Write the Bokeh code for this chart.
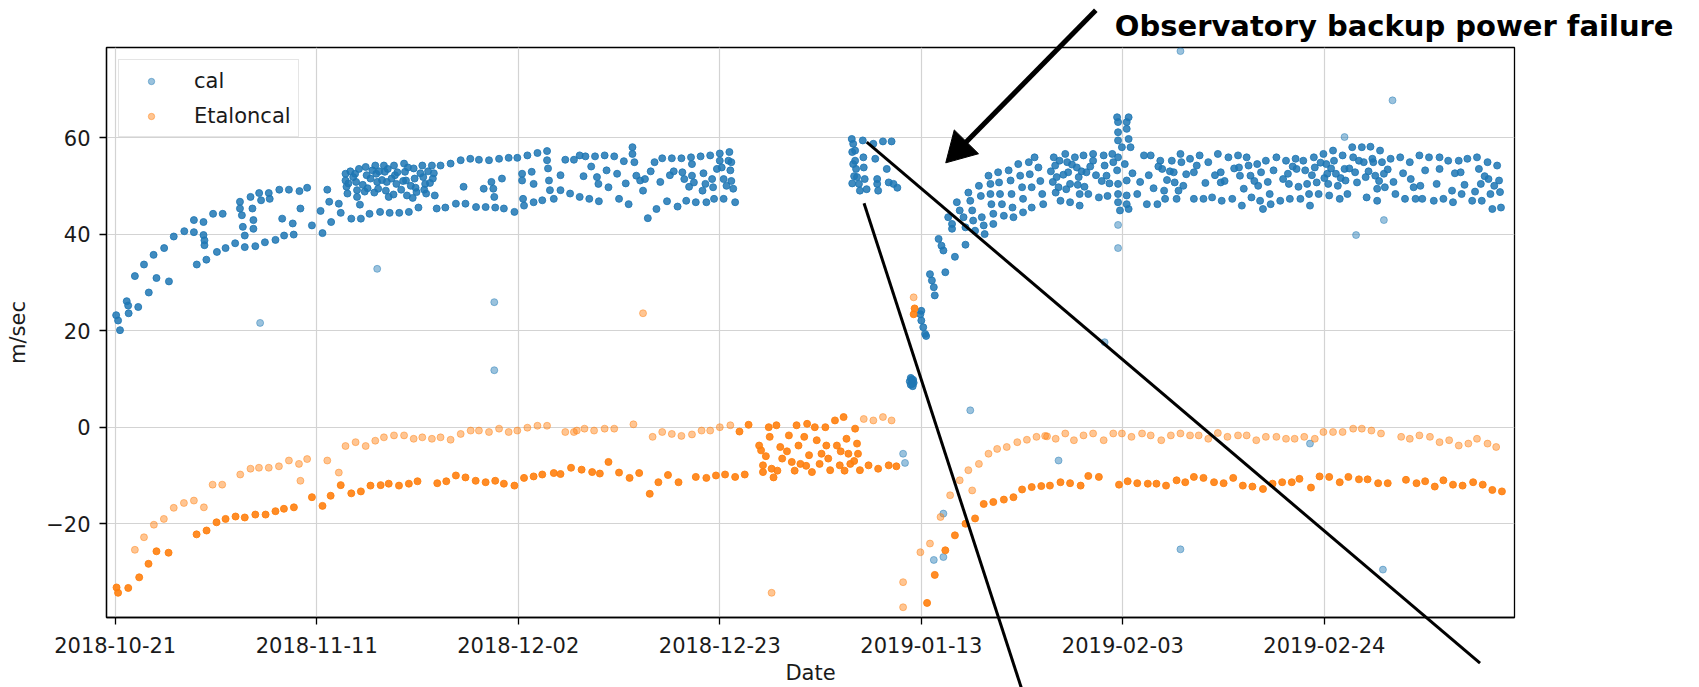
import numpy as np
import pandas as pd
from bokeh.plotting import figure
from bokeh.models import (Range1d, FixedTicker, DatetimeTickFormatter, Legend, LegendItem,
                          ColumnDataSource)
from bokeh.core.properties import value
from bokeh.embed import file_html
from bokeh.resources import INLINE

# ---------------------------------------------------------------------------
# Data: RV offsets (m/sec) against days elapsed since START
# ---------------------------------------------------------------------------
START = "2018-10-21"
TICK_DATES = ["2018-10-21", "2018-11-11", "2018-12-02", "2018-12-23",
              "2019-01-13", "2019-02-03", "2019-02-24"]
Y_TICKS = [-20, 0, 20, 40, 60]

# cal: October / November warm-up
cal_oct_day = [0.1, 0.3, 0.5, 1.2, 1.35, 1.4, 2.05, 2.4, 3.0, 3.5,
               4.0, 4.3, 5.1, 5.6, 6.1, 7.2, 8.2, 8.2, 8.5, 9.2,
               9.2, 9.3, 9.3, 9.5, 10.2, 10.6, 11.2, 11.5, 12.5, 13.0,
               13.0, 13.2, 13.3, 13.5, 13.5, 14.1, 14.3, 14.4, 14.4, 14.6,
               15.0, 15.2, 15.6, 16.0, 16.1, 16.7, 17.1, 17.4, 17.6, 18.1,
               18.5, 18.6, 19.2, 19.3, 20.0, 20.5, 21.4, 21.6, 22.1, 22.3,
               22.5, 23.3, 23.5]
cal_oct_val = [23.2, 22.1, 20.1, 26.1, 25.2, 23.6, 31.3, 24.9, 33.7, 27.9,
               35.7, 30.9, 37.1, 30.2, 39.5, 40.6, 42.9, 40.4, 33.7, 42.5,
               39.8, 38.7, 37.7, 34.7, 44.2, 36.3, 44.2, 37.1, 38.1, 46.7,
               45.3, 43.9, 41.5, 37.3, 39.7, 47.7, 45.3, 42.9, 41.1, 37.5,
               48.5, 47.0, 38.3, 48.5, 47.3, 38.8, 49.2, 43.2, 39.7, 49.2,
               42.2, 39.9, 48.9, 45.3, 49.6, 41.8, 44.8, 40.2, 49.2, 46.7,
               42.5, 46.3, 44.4]

# cal: November plateau
cal_nov_day = [24.0, 24.0, 24.1, 24.2, 24.6, 25.0, 25.1, 25.2, 25.2, 25.5,
               25.6, 26.1, 26.2, 26.5, 27.1, 27.2, 27.3, 27.4, 27.6, 28.0,
               28.1, 28.3, 28.5, 28.6, 29.05, 29.15, 29.3, 29.6, 30.1, 30.2,
               30.3, 30.4, 30.6, 31.1, 31.2, 31.4, 31.6, 32.0, 32.1, 32.3,
               32.4, 33.0, 33.1, 33.3, 33.5, 33.9, 34.4, 34.95, 35.5, 36.0,
               36.3, 36.5, 37.0, 37.6, 37.9, 38.4, 38.6, 38.95, 39.2, 39.4,
               39.5, 39.6, 40.0, 40.3, 40.5, 41.0, 41.6, 41.9, 42.4, 42.4,
               42.5, 42.6, 42.95, 43.4, 43.6, 43.6, 44.0, 44.5, 45.0, 45.0,
               45.1, 45.2, 45.3, 45.7, 46.4, 46.4, 46.9, 47.4, 47.8,
               24.3, 24.5, 24.8, 25.4, 25.8, 26.0, 26.3, 26.6, 26.8, 27.0,
               27.5, 27.8, 28.2, 28.4, 28.8, 29.0, 29.4, 29.8, 30.0, 30.5,
               30.8, 31.0, 31.3, 31.8, 32.2, 32.6, 32.8, 33.2]
cal_nov_val = [52.5, 51.1, 49.8, 48.4, 43.2, 52.5, 50.8, 49.1, 47.7, 46.1,
               43.2, 53.9, 52.2, 44.2, 54.2, 52.5, 50.8, 49.4, 44.6, 54.2,
               52.9, 50.8, 47.7, 44.4, 54.2, 52.2, 50.4, 44.4, 54.6, 52.9,
               51.1, 48.0, 44.6, 53.6, 51.5, 48.7, 45.5, 54.2, 51.8, 50.4,
               48.4, 54.2, 51.5, 48.0, 45.3, 54.2, 45.5, 54.6, 46.3, 55.3,
               49.8, 46.3, 55.6, 45.6, 55.4, 49.4, 45.6, 55.3, 50.8, 49.4,
               47.7, 45.5, 55.6, 51.5, 45.3, 55.8, 44.6, 55.8, 52.5, 51.1,
               47.3, 45.9, 56.3, 52.9, 50.4, 46.6, 56.8, 47.0, 57.2, 55.3,
               53.6, 51.1, 49.1, 47.3, 52.2, 49.1, 55.4, 48.4, 55.4,
               50.5, 53.0, 51.8, 53.5, 50.2, 48.8, 49.5, 51.5, 53.2, 48.6,
               53.0, 51.2, 49.0, 53.5, 51.5, 48.2, 52.8, 49.2, 51.0, 53.8,
               50.0, 47.5, 49.6, 52.6, 49.2, 53.0, 50.6, 52.6]

# cal: December
cal_dec_day = [48.4, 49.0, 50.0, 51.0, 52.0, 53.0, 53.9, 53.9, 54.1, 56.2,
               57.0, 58.0, 59.0, 60.0, 61.0, 62.0, 63.0, 64.0,
               50.2, 50.35, 51.2, 51.4, 54.3, 54.7, 55.2, 55.0, 58.2, 59.1,
               59.3, 60.1, 60.1, 60.3, 61.3, 61.5, 61.2, 62.2, 62.3, 63.0,
               63.2, 63.4, 63.9, 64.1, 64.2, 64.4, 64.2,
               48.4, 49.4, 50.4, 52.5, 53.5, 55.5, 56.4, 57.5, 58.6, 59.5,
               60.5, 61.6, 62.4, 63.4, 64.6,
               48.8, 49.6, 52.3, 53.2, 55.8, 56.8, 57.8, 59.8, 62.7, 63.7]
cal_dec_val = [56.3, 56.1, 56.1, 56.3, 56.1, 55.1, 58.0, 56.6, 54.9, 54.9,
               55.7, 55.7, 55.7, 55.9, 56.1, 56.3, 56.7, 57.0,
               51.8, 50.4, 53.2, 49.7, 52.1, 51.1, 51.4, 49.0, 53.0, 52.8,
               51.4, 54.5, 52.1, 50.7, 52.6, 50.4, 49.0, 51.4, 49.7, 55.2,
               53.8, 51.4, 55.2, 53.2, 51.0, 49.4, 54.9,
               47.7, 47.3, 46.8, 47.3, 46.2, 43.3, 45.2, 46.8, 45.7, 46.9,
               46.6, 46.6, 47.3, 47.3, 46.6,
               52.0, 54.0, 52.5, 50.5, 53.0, 50.8, 52.2, 49.8, 53.5, 50.0]

# cal: January (before and after the outage)
cal_jan_day = [76.75, 76.8, 76.8, 76.9, 76.9, 77.0, 77.1, 77.1, 77.2, 77.3,
               77.5, 77.6, 77.9, 77.96, 78.0, 78.1, 78.3, 79.0, 79.2, 79.4,
               79.5, 79.4, 80.0, 80.4, 80.6, 80.9, 81.1, 81.5,
               82.8, 82.9, 83.0, 83.1, 83.2, 82.9, 83.05, 83.15,
               83.9, 84.0, 84.2, 84.4, 84.0, 84.5,
               84.9, 85.1, 85.3, 85.4, 85.8, 86.1, 86.3, 86.5, 87.5, 88.6,
               86.8, 87.2, 87.2, 87.7, 88.0, 88.4, 88.6, 88.9, 89.1, 89.3,
               89.4, 89.6, 90.3, 90.5, 90.6, 90.0, 90.2, 91.0, 91.2, 91.2,
               91.3, 91.5, 91.5, 92.0, 92.1, 92.2, 92.4, 92.6, 93.1, 93.3,
               93.4, 93.5, 93.6, 94.1, 94.3, 94.5, 94.6, 94.6, 95.2, 95.3,
               95.5, 95.5, 95.8, 96.2, 96.4, 96.6, 96.7]
cal_jan_val = [59.7, 57.0, 50.5, 58.7, 54.5, 52.0, 57.3, 55.2, 53.5, 51.8,
               50.4, 49.0, 59.4, 55.9, 53.8, 51.4, 49.3, 58.7, 55.6, 51.4,
               49.0, 50.4, 59.2, 53.5, 50.7, 59.2, 50.4, 49.6,
               9.5, 8.8, 9.9, 8.5, 9.2, 10.2, 9.0, 9.8,
               23.4, 22.1, 20.7, 19.3, 24.1, 18.9,
               31.7, 30.4, 29.0, 27.3, 39.0, 37.6, 36.6, 32.1, 35.3, 37.8,
               43.5, 42.1, 41.1, 46.6, 44.9, 43.5, 41.4, 48.6, 46.9, 44.9,
               42.8, 40.7, 43.5, 41.8, 40.0, 50.0, 47.9, 52.1, 50.4, 48.3,
               46.2, 44.2, 42.1, 52.8, 50.7, 48.3, 46.2, 43.8, 53.2, 51.1,
               48.3, 45.5, 43.5, 54.5, 52.1, 49.7, 47.3, 44.5, 54.9, 52.4,
               49.7, 45.5, 55.9, 53.8, 51.0, 48.3, 46.2]

# cal: February / March
cal_feb_day = [97.8, 97.95, 98.1, 98.3, 98.5, 99.0, 99.2, 99.3, 99.5, 99.5,
               100.0, 100.2, 100.4, 100.5, 100.5, 100.9, 101.2, 101.4, 101.9, 101.9,
               102.5, 103.0, 103.1, 103.3, 103.4, 103.9, 104.0,
               104.4, 105.6, 104.5, 105.4, 104.5, 105.4, 104.5, 105.6, 104.9, 105.8,
               104.5, 105.2, 104.4, 104.5, 105.4, 104.5, 105.4, 104.5, 104.7, 105.6,
               105.4,
               106.5, 107.2, 107.5, 107.9, 108.9, 109.1, 109.3, 109.4, 108.6, 110.1,
               110.3, 110.4, 110.6, 111.0, 111.1, 111.3, 112.0, 112.4, 112.4, 113.0,
               113.4, 113.9, 114.3, 114.9, 115.2, 115.2, 115.3, 116.0, 116.4, 117.0,
               117.1, 117.2, 117.4, 117.9, 118.1, 118.3, 118.4, 119.0, 119.1, 119.3,
               119.6, 119.9, 120.3, 120.4, 121.0, 121.4, 122.0, 122.2, 122.3, 122.4,
               123.0, 123.1, 123.5, 123.8, 124.0, 124.2, 124.4, 124.5, 124.9, 125.0,
               125.2, 125.4, 125.9, 126.2, 126.3, 126.4, 126.5, 126.9, 127.0, 127.2,
               127.4, 127.6, 127.9, 128.1, 128.2, 128.4, 128.9, 129.0, 129.2, 129.4,
               129.9, 130.1, 130.3, 130.4, 130.8, 131.1, 131.3, 131.5, 131.5, 131.8,
               132.0, 132.2, 132.3, 132.9, 133.4, 133.9, 134.4, 134.9, 135.3, 135.5,
               135.9, 136.0, 136.2, 136.9, 137.4, 138.0, 138.0, 138.4, 138.9, 139.3,
               139.4, 140.0, 140.2, 140.3, 140.9, 141.4, 141.9, 142.1, 142.3, 142.4,
               143.0, 143.1, 143.3, 143.5, 144.0, 144.2, 144.3, 144.4,
               97.5, 97.7, 98.0, 98.4, 98.8, 99.1, 99.7, 100.3, 100.7, 101.0,
               101.6, 102.2, 102.8, 103.6, 106.0, 106.8, 107.7, 108.2, 108.7, 109.6,
               109.9, 110.8, 111.6, 112.7, 113.6, 114.6, 115.6, 116.6, 117.6, 118.7,
               119.4, 120.1, 120.7, 121.7, 122.7, 123.3, 124.7, 125.6, 126.0, 126.7,
               127.7, 128.6, 129.6, 130.6, 131.0, 131.7, 132.6, 133.2, 134.2, 135.0,
               136.5, 137.7, 139.6, 140.6, 141.7, 142.7, 143.7]
cal_feb_val = [55.9, 54.2, 51.8, 49.7, 46.9, 56.6, 54.9, 52.8, 50.4, 46.6,
               55.9, 53.8, 51.8, 48.3, 45.9, 56.3, 52.8, 48.3, 56.6, 55.2,
               47.6, 56.3, 54.2, 52.1, 47.9, 56.6, 54.9,
               64.2, 64.2, 63.2, 63.2, 61.1, 61.8, 59.4, 59.7, 58.0, 58.0,
               55.9, 54.5, 53.2, 50.4, 51.1, 48.3, 48.0, 46.6, 44.9, 45.2,
               46.2,
               48.3, 56.3, 46.2, 56.3, 55.2, 53.5, 49.0, 47.3, 46.2, 55.2,
               52.8, 50.7, 47.3, 56.6, 54.9, 50.0, 55.6, 52.8, 47.3, 56.3,
               47.3, 54.9, 47.6, 56.6, 52.8, 50.7, 46.9, 55.9, 47.3, 56.3,
               53.8, 52.1, 45.9, 55.9, 54.2, 52.1, 47.6, 54.5, 50.0, 46.9,
               45.2, 55.2, 48.3, 46.2, 55.9, 46.9, 55.2, 52.5, 50.4, 47.3,
               55.6, 53.5, 47.3, 55.2, 53.2, 50.4, 48.3, 45.9, 55.9, 53.8,
               50.7, 48.3, 56.6, 54.5, 52.5, 50.4, 48.0, 57.3, 55.2, 52.5,
               50.0, 47.3, 56.3, 53.5, 51.1, 48.3, 58.0, 55.9, 52.8, 50.7,
               58.0, 54.9, 51.8, 47.6, 58.1, 54.9, 52.1, 49.4, 46.9, 57.3,
               54.9, 52.5, 49.7, 55.6, 48.3, 55.9, 47.3, 54.9, 49.7, 47.3,
               56.3, 50.0, 47.3, 55.9, 46.9, 55.9, 53.5, 47.3, 55.2, 49.0,
               46.6, 55.2, 52.8, 48.3, 55.6, 46.9, 55.9, 53.5, 50.4, 46.9,
               54.9, 51.4, 48.3, 45.2, 54.2, 51.1, 48.7, 45.5,
               53.0, 50.8, 48.6, 55.2, 52.3, 49.3, 54.4, 50.2, 53.0, 49.8,
               54.0, 52.2, 51.0, 50.5, 52.6, 50.8, 52.2, 49.5, 54.0, 51.2,
               53.0, 49.0, 52.4, 54.2, 50.6, 52.2, 51.0, 53.6, 49.4, 51.0,
               52.8, 50.8, 53.2, 51.4, 54.0, 49.8, 52.2, 54.8, 51.6, 53.6,
               51.6, 53.6, 55.2, 53.0, 55.6, 51.0, 53.4, 50.8, 52.6, 51.4,
               53.2, 50.4, 52.6, 50.2, 48.8, 52.0, 50.0]

# cal: isolated outliers
cal_out_day = [15.1, 27.3, 39.5, 39.5, 82.1, 82.3, 85.3, 86.3, 86.3, 89.1,
               98.3, 103.1, 104.5, 104.5, 111.0, 111.0, 124.5, 128.1, 129.3, 132.1,
               132.2, 133.1]
cal_out_val = [21.6, 32.8, 25.9, 11.8, -5.5, -7.4, -27.5, -26.9, -17.9, 3.5,
               -6.9, 17.6, 41.9, 37.1, -25.3, 77.9, -3.4, 60.1, 39.8, -29.5,
               42.9, 67.7]

# Etaloncal: single-exposure nights (upper track and scattered points)
etal_single_day = [2.05, 3.0, 4.03, 5.07, 6.1, 7.16, 8.2, 9.24, 10.15, 11.15,
                   13.03, 14.1, 14.98, 16.0, 17.06, 18.1, 19.15, 19.3, 20.0, 22.1,
                   23.3, 24.0, 25.05, 26.1, 27.1, 28.0, 29.05, 30.1, 31.1, 32.0,
                   33.0, 33.9, 34.95, 36.0, 37.04, 37.9, 38.95, 40.0, 41.0, 41.9,
                   42.95, 44.0, 45.0, 46.9, 47.8,
                   48.1, 48.9, 49.9, 51.0, 52.0, 54.0, 56.0, 57.0, 58.0, 59.0,
                   60.1, 61.1, 62.0, 63.0, 64.1,
                   78.0, 79.0, 80.0, 80.9, 82.1, 82.1, 83.9, 84.9, 86.0, 87.0,
                   88.0, 88.9, 89.3, 90.0, 91.0, 91.9, 92.9, 94.0, 95.0, 96.0,
                   96.9,
                   55.0, 68.4, 83.2,
                   97.1, 98.0, 99.0, 99.9, 100.9, 101.9, 103.0, 104.0, 104.9, 105.9,
                   107.0, 107.9, 109.0, 110.0, 111.0, 112.0, 112.9, 113.9, 114.9, 115.9,
                   117.0, 117.9, 118.9, 119.9, 121.0, 122.0, 122.9, 123.9, 125.0, 125.9,
                   126.9, 127.9, 129.0, 129.9, 130.9, 131.9, 134.0, 134.9, 135.9, 137.0,
                   138.0, 139.0, 140.0, 141.0, 141.9, 143.0, 143.9]
etal_single_val = [-25.4, -22.8, -20.2, -19.0, -16.7, -15.7, -15.2, -16.6, -11.9, -11.9,
                   -9.8, -8.6, -8.4, -8.4, -8.1, -6.9, -7.6, -11.1, -6.6, -6.9,
                   -9.4, -3.9, -3.1, -3.9, -2.8, -2.1, -1.7, -1.7, -2.4, -2.1,
                   -2.4, -2.1, -2.6, -1.4, -0.7, -0.7, -1.0, -0.3, -1.0, -0.7,
                   -0.1, 0.3, 0.3, -1.0, -1.0,
                   -0.7, -0.3, -0.7, -0.3, -0.3, 0.6, -2.0, -1.0, -1.4, -1.8,
                   -1.5, -0.7, -0.7, 0.0, 0.4,
                   1.7, 1.4, 2.1, 1.4, -32.1, -37.3, -25.9, -24.1, -18.6, -14.1,
                   -11.0, -8.9, -13.1, -7.6, -5.5, -4.5, -4.1, -3.1, -2.6, -2.0,
                   -1.8,
                   23.6, -34.3, 26.9,
                   -1.9, -2.4, -1.3, -2.7, -1.7, -1.3, -2.7, -1.3, -1.3, -2.0,
                   -1.3, -1.7, -2.7, -1.7, -1.3, -1.7, -1.7, -2.4, -1.2, -2.0,
                   -1.7, -1.7, -2.7, -2.0, -2.0, -2.4, -2.4, -2.0, -2.4, -1.0,
                   -1.0, -1.0, -0.3, -0.3, -0.7, -1.3, -2.0, -2.4, -1.7, -2.0,
                   -3.1, -2.7, -3.8, -3.4, -2.4, -3.4, -4.1]

# Etaloncal: repeated-exposure nights (lower track and the late-December block)
etal_multi_day = [0.14, 0.3, 1.36, 2.5, 3.47, 4.3, 5.56, 8.48, 9.52, 10.56,
                  11.5, 12.54, 13.5, 14.6, 15.67, 16.7, 17.58, 18.62, 20.5, 21.6,
                  22.45, 23.5, 24.6, 25.6, 26.6, 27.66, 28.5, 29.57, 30.6, 31.5,
                  33.56, 34.5, 35.5, 36.5, 37.56, 38.6, 39.6, 40.5, 41.6, 42.6,
                  43.6, 44.5, 45.7, 46.4, 47.5,
                  48.6, 49.7, 50.5, 51.4, 52.5, 53.6, 54.6, 55.7, 56.6, 57.6,
                  58.7, 60.5, 61.6, 62.6, 63.55, 64.6, 65.05, 65.6, 66.0,
                  67.1, 67.3, 67.5, 67.5, 68.1, 68.2, 68.4, 68.6, 68.9, 69.3,
                  69.5, 70.2, 70.5, 71.0, 71.2, 71.4, 72.1, 72.3, 72.6, 72.9,
                  73.1, 73.4, 74.0, 74.1, 74.5, 75.0, 75.2, 75.5, 75.9, 76.2,
                  76.6, 77.1, 77.3, 77.4, 77.6, 78.5, 79.5, 80.6, 81.4,
                  67.8, 69.0, 70.0, 70.8, 71.8, 72.0, 73.6, 74.3, 75.6, 76.4,
                  77.0, 76.0,
                  83.2, 83.3, 84.6, 85.4, 86.5, 87.5, 88.6, 89.6, 90.5, 91.5,
                  92.6, 93.6, 94.5, 95.5, 96.5,
                  97.4, 98.5, 99.5, 100.6, 101.4, 102.5, 104.6, 105.5, 106.5, 107.6,
                  108.5, 109.5, 110.6, 111.5, 112.4, 113.4, 114.5, 115.5, 116.5, 117.5,
                  118.5, 119.6, 120.6, 121.6, 122.6, 123.4, 124.6, 125.5, 126.5, 127.6,
                  128.5, 129.6, 130.5, 131.6, 132.6, 134.5, 135.6, 136.5, 137.5, 138.4,
                  139.4, 140.4, 141.5, 142.5, 143.5, 144.5]
etal_multi_val = [-33.2, -34.3, -33.3, -31.1, -28.3, -25.7, -26.0, -22.2, -21.4, -19.7,
                  -19.0, -18.5, -18.7, -18.1, -18.1, -17.4, -16.9, -16.6, -14.5, -16.3,
                  -14.2, -12.0, -13.7, -13.3, -12.1, -12.0, -11.7, -12.1, -11.7, -11.2,
                  -11.6, -11.2, -10.0, -10.4, -11.1, -11.4, -11.1, -11.7, -12.1, -10.5,
                  -10.2, -9.8, -9.5, -9.7, -8.4,
                  -8.8, -9.3, -9.6, -7.2, -9.4, -10.5, -9.5, -13.8, -11.4, -9.9,
                  -11.4, -10.3, -10.5, -10.0, -9.8, -10.3, -0.9, -9.8, 0.5,
                  -3.8, -4.8, -7.9, -9.3, 0.0, -2.0, -8.6, -10.4, 0.4, -4.1,
                  -6.5, -1.7, -7.2, 0.4, -3.8, -7.6, 0.7, -5.8, -9.3, 0.0,
                  -2.7, -7.6, 0.0, -3.8, -8.9, 1.4, -3.8, -7.9, 2.1, -2.4,
                  -7.6, -0.3, -3.4, -5.5, -8.9, -7.9, -8.6, -7.9, -8.1,
                  -6.0, -9.0, -5.0, -9.0, -2.0, -8.0, -5.5, -6.5, -5.0, -5.5,
                  -7.0, -9.0,
                  23.4, 24.6, -36.4, -30.6, -25.5, -22.4, -20.0, -18.9, -15.9, -15.5,
                  -15.0, -14.5, -12.9, -12.4, -12.2,
                  -12.1, -11.4, -11.6, -12.1, -10.1, -10.3, -11.9, -11.2, -11.6, -11.7,
                  -11.7, -12.1, -11.0, -11.4, -10.3, -10.5, -11.4, -11.6, -10.5, -12.1,
                  -12.3, -12.8, -11.7, -11.4, -11.4, -10.7, -12.5, -10.2, -10.3, -11.4,
                  -10.3, -10.8, -10.8, -11.6, -11.6, -10.9, -11.6, -11.2, -12.3, -11.0,
                  -11.9, -12.1, -11.4, -11.9, -13.0, -13.3]

# ---------------------------------------------------------------------------
DAY_MS = 86400000.0
START_MS = pd.Timestamp(START).value / 1e6


def ms(days):
    """Days since START -> epoch milliseconds (what the datetime axis uses)."""
    return START_MS + np.asarray(days, dtype=float) * DAY_MS


def source(days, vals, name):
    if len(days) != len(vals):
        raise ValueError(f"{name}: {len(days)} days vs {len(vals)} values")
    return ColumnDataSource(dict(x=ms(days), y=np.asarray(vals, dtype=float)))


cal_band = source(cal_oct_day + cal_nov_day + cal_dec_day + cal_jan_day + cal_feb_day,
                  cal_oct_val + cal_nov_val + cal_dec_val + cal_jan_val + cal_feb_val, "cal")
cal_out = source(cal_out_day, cal_out_val, "cal outliers")
etal_single = source(etal_single_day, etal_single_val, "etalon single")
etal_multi = source(etal_multi_day, etal_multi_val, "etalon multi")

BLUE = "#1f77b4"
ORANGE = "#ff7f0e"
FONT = "DejaVu Sans"
FS = "21px"

p = figure(width=1699, height=687, output_backend="svg", toolbar_location=None,
           x_axis_type="datetime",
           x_range=Range1d(float(ms(-0.907)), float(ms(145.81))),
           y_range=Range1d(-39.42, 78.65),
           min_border_left=106, min_border_right=185,
           min_border_top=47, min_border_bottom=70)
p.background_fill_color = "white"
p.border_fill_color = "white"
p.outline_line_color = "black"
p.outline_line_width = 1.3

# axes
p.xaxis.ticker = FixedTicker(ticks=[float(pd.Timestamp(d).value / 1e6) for d in TICK_DATES])
fmt = "%Y-%m-%d"
p.xaxis.formatter = DatetimeTickFormatter(days=fmt, months=fmt, years=fmt, hours=fmt,
                                          hourmin=fmt, minutes=fmt, minsec=fmt, seconds=fmt,
                                          milliseconds=fmt, microseconds=fmt)
p.yaxis.ticker = FixedTicker(ticks=Y_TICKS)
p.yaxis.major_label_overrides = {t: (f"\u2212{abs(t)}" if t < 0 else str(t)) for t in Y_TICKS}
p.xaxis.axis_label = "Date"
p.yaxis.axis_label = "m/sec"
for ax in (p.xaxis, p.yaxis):
    ax.axis_line_color = "black"
    ax.axis_line_width = 1.3
    ax.major_tick_out = 7
    ax.major_tick_in = 0
    ax.major_tick_line_color = "black"
    ax.major_tick_line_width = 1.3
    ax.minor_tick_line_color = None
    ax.major_label_text_font = FONT
    ax.major_label_text_font_size = FS
    ax.major_label_text_color = "#1a1a1a"
    ax.axis_label_text_font = FONT
    ax.axis_label_text_font_size = FS
    ax.axis_label_text_font_style = "normal"
    ax.axis_label_text_color = "#1a1a1a"
p.xaxis.major_label_standoff = 12
p.xaxis.axis_label_standoff = 5
p.yaxis.major_label_standoff = 9
p.yaxis.axis_label_standoff = 13

p.xgrid.grid_line_color = "#d3d3d3"
p.ygrid.grid_line_color = "#d3d3d3"
p.xgrid.grid_line_width = 1.2
p.ygrid.grid_line_width = 1.2

# data
SIZE = 7
r_band = p.scatter("x", "y", source=cal_band, size=SIZE, color=BLUE, fill_alpha=0.85,
                   line_alpha=0.85, line_width=1)
r_cal = p.scatter("x", "y", source=cal_out, size=SIZE, color=BLUE, fill_alpha=0.45,
                  line_alpha=0.45, line_width=1)
r_es = p.scatter("x", "y", source=etal_single, size=SIZE, color=ORANGE, fill_alpha=0.45,
                 line_alpha=0.45, line_width=1)
r_em = p.scatter("x", "y", source=etal_multi, size=SIZE, color=ORANGE, fill_alpha=0.9,
                 line_alpha=0.9, line_width=1)

legend = Legend(items=[LegendItem(label="cal", renderers=[r_cal]),
                       LegendItem(label="Etaloncal", renderers=[r_es])],
                location="top_left", margin=12, padding=7, spacing=8,
                glyph_width=50, glyph_height=16, label_height=27, label_standoff=18,
                label_text_font=FONT, label_text_font_size=FS, label_text_color="#1a1a1a",
                border_line_color="#cccccc", border_line_width=1.2,
                background_fill_color="white", background_fill_alpha=0.85)
p.add_layout(legend)

# Outage annotation, drawn on the overlay level so it can run past the plot frame.
p.text(x=[float(ms(104.16))], y=[83.0], text=["Observatory backup power failure"],
       text_font=value("DejaVu Sans"), text_font_style="bold", text_font_size="29px",
       text_color="black", text_baseline="alphabetic", text_align="left", level="overlay")
# arrow: shaft plus a rotated triangular head
p.segment(x0=[float(ms(102.18))], y0=[86.38], x1=[float(ms(87.98))], y1=[57.66],
          line_color="black", line_width=5, level="overlay")
p.scatter(x=[float(ms(87.98))], y=[57.66], marker="triangle", size=34, angle=2.365,
          fill_color="black", line_color="black", level="overlay")
# callout lines towards the zoomed view
p.segment(x0=[float(ms(78.31)), float(ms(78.03))], y0=[59.03, 46.38],
          x1=[float(ms(142.22)), float(ms(94.85))], y1=[-48.89, -56.62],
          line_color="black", line_width=3, level="overlay")

open("out.html", "w").write(file_html(p, INLINE))
